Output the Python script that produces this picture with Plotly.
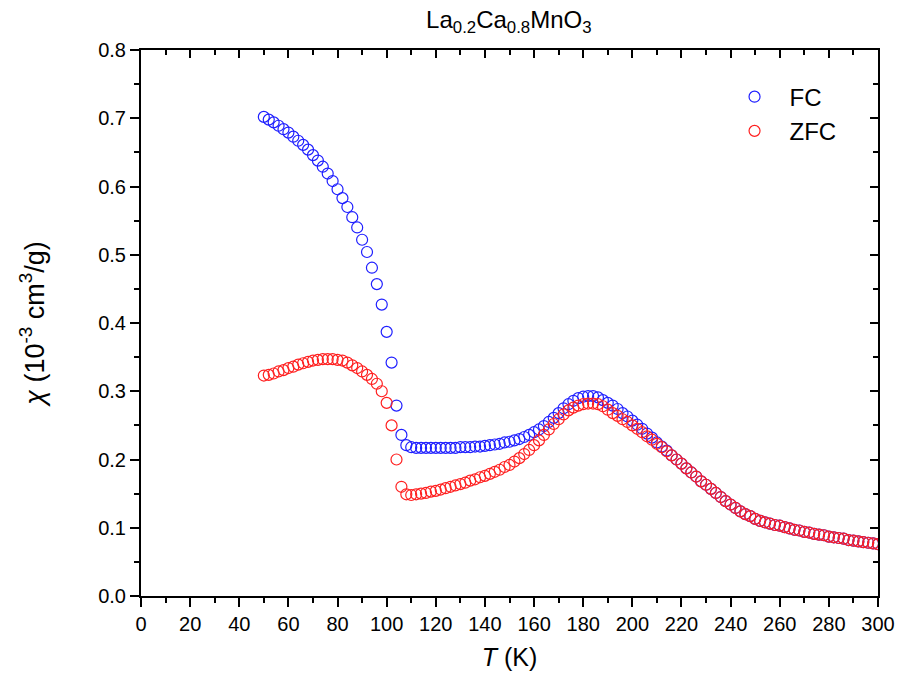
import plotly.graph_objects as go

T = list(range(50, 301, 2))

FC = [0.702, 0.698, 0.694, 0.689, 0.684, 0.679, 0.673, 0.667, 0.661, 0.654,
      0.646, 0.638, 0.629, 0.619, 0.608, 0.596, 0.583, 0.570, 0.555, 0.540,
      0.522, 0.504, 0.481, 0.457, 0.427, 0.387, 0.342, 0.279, 0.236, 0.221,
      0.218, 0.217, 0.217, 0.217, 0.217, 0.217, 0.217, 0.217, 0.217, 0.217,
      0.218, 0.218, 0.218, 0.219, 0.219, 0.220, 0.221, 0.222, 0.223, 0.225,
      0.226, 0.228, 0.230, 0.233, 0.236, 0.240, 0.244, 0.249, 0.255, 0.261,
      0.268, 0.275, 0.281, 0.286, 0.290, 0.292, 0.293, 0.293, 0.291, 0.287,
      0.283, 0.279, 0.274, 0.268, 0.263, 0.257, 0.251, 0.245, 0.238, 0.232,
      0.225, 0.219, 0.213, 0.206, 0.200, 0.194, 0.187, 0.181, 0.175, 0.168,
      0.163, 0.157, 0.151, 0.145, 0.139, 0.134, 0.129, 0.124, 0.120, 0.117,
      0.113, 0.110, 0.108, 0.106, 0.104, 0.103, 0.101, 0.099, 0.097, 0.096,
      0.094, 0.093, 0.091, 0.090, 0.089, 0.087, 0.086, 0.085, 0.084, 0.082,
      0.081, 0.080, 0.079, 0.078, 0.077, 0.076]

ZFC = [0.323, 0.324, 0.326, 0.329, 0.331, 0.334, 0.336, 0.339, 0.341, 0.343,
       0.345, 0.346, 0.347, 0.347, 0.347, 0.346, 0.345, 0.342, 0.338, 0.334,
       0.329, 0.324, 0.318, 0.311, 0.300, 0.283, 0.250, 0.200, 0.160, 0.149,
       0.148, 0.149, 0.150, 0.151, 0.153, 0.154, 0.156, 0.158, 0.160, 0.162,
       0.164, 0.166, 0.169, 0.171, 0.174, 0.176, 0.179, 0.182, 0.185, 0.189,
       0.192, 0.197, 0.202, 0.208, 0.214, 0.221, 0.228, 0.236, 0.244, 0.252,
       0.259, 0.266, 0.272, 0.276, 0.279, 0.281, 0.282, 0.282, 0.281, 0.278,
       0.273, 0.268, 0.264, 0.259, 0.255, 0.250, 0.245, 0.240, 0.234, 0.229,
       0.223, 0.218, 0.212, 0.206, 0.200, 0.194, 0.187, 0.181, 0.175, 0.168,
       0.163, 0.157, 0.151, 0.145, 0.139, 0.134, 0.129, 0.124, 0.120, 0.117,
       0.113, 0.110, 0.108, 0.106, 0.104, 0.103, 0.101, 0.099, 0.097, 0.096,
       0.094, 0.093, 0.091, 0.090, 0.089, 0.087, 0.086, 0.085, 0.084, 0.082,
       0.081, 0.080, 0.079, 0.078, 0.077, 0.076]

X_TICKS = list(range(0, 301, 20))
Y_TICKS = [0.0, 0.1, 0.2, 0.3, 0.4, 0.5, 0.6, 0.7, 0.8]

FONT = "Liberation Sans, Arial, sans-serif"

fig = go.Figure()
fig.add_trace(go.Scatter(x=T, y=FC, mode="markers", name="FC",
                         marker=dict(symbol="circle-open", size=11, color="#1f1fff",
                                     line=dict(width=1.2, color="#1f1fff"))))
fig.add_trace(go.Scatter(x=T, y=ZFC, mode="markers", name="ZFC",
                         marker=dict(symbol="circle-open", size=11, color="#ff1f1f",
                                     line=dict(width=1.2, color="#ff1f1f"))))
fig.add_trace(go.Scatter(x=[], y=[], xaxis="x2", yaxis="y2", showlegend=False))

axis_common = dict(showgrid=False, zeroline=False, showline=True, linecolor="black",
                   linewidth=2, tickcolor="black", tickwidth=2, automargin=False)

fig.update_layout(
    width=899, height=686,
    margin=dict(l=141, r=21, t=50, b=90),
    paper_bgcolor="white", plot_bgcolor="white",
    font=dict(family=FONT, color="black", size=20),
    title=dict(text="La<sub>0.2</sub>Ca<sub>0.8</sub>MnO<sub>3</sub>", x=0.566, xanchor="center",
               y=0.972, yanchor="middle", font=dict(size=24, family=FONT)),
    xaxis=dict(range=[0, 300], tickvals=X_TICKS, ticks="outside", ticklen=9,
               tickfont=dict(size=20), title=dict(text="<i>T</i> (K)", font=dict(size=25), standoff=14),
               minor=dict(dtick=10, ticks="outside", ticklen=5, tickcolor="black", tickwidth=2),
               **axis_common),
    yaxis=dict(range=[0, 0.8], tickvals=Y_TICKS, tickformat=".1f", ticks="outside", ticklen=9,
               tickfont=dict(size=20),
               title=dict(text="<i>χ</i> (10<sup>-3</sup> cm<sup>3</sup>/g)", font=dict(size=27), standoff=46),
               minor=dict(dtick=0.05, ticks="outside", ticklen=5, tickcolor="black", tickwidth=2),
               **axis_common),
    xaxis2=dict(range=[0, 300], overlaying="x", side="top", anchor="y", tickvals=X_TICKS,
                ticks="inside", ticklen=8, showticklabels=False,
                minor=dict(dtick=10, ticks="inside", ticklen=5, tickcolor="black", tickwidth=2),
                **axis_common),
    yaxis2=dict(range=[0, 0.8], overlaying="y", side="right", anchor="x", tickvals=Y_TICKS,
                ticks="inside", ticklen=8, showticklabels=False,
                minor=dict(dtick=0.05, ticks="inside", ticklen=5, tickcolor="black", tickwidth=2),
                **axis_common),
    legend=dict(x=0.785, y=0.955, xanchor="left", yanchor="top", bgcolor="rgba(0,0,0,0)",
                font=dict(size=24, family=FONT), itemwidth=60, tracegroupgap=0),
    showlegend=True,
)

fig.write_html("out.html")
